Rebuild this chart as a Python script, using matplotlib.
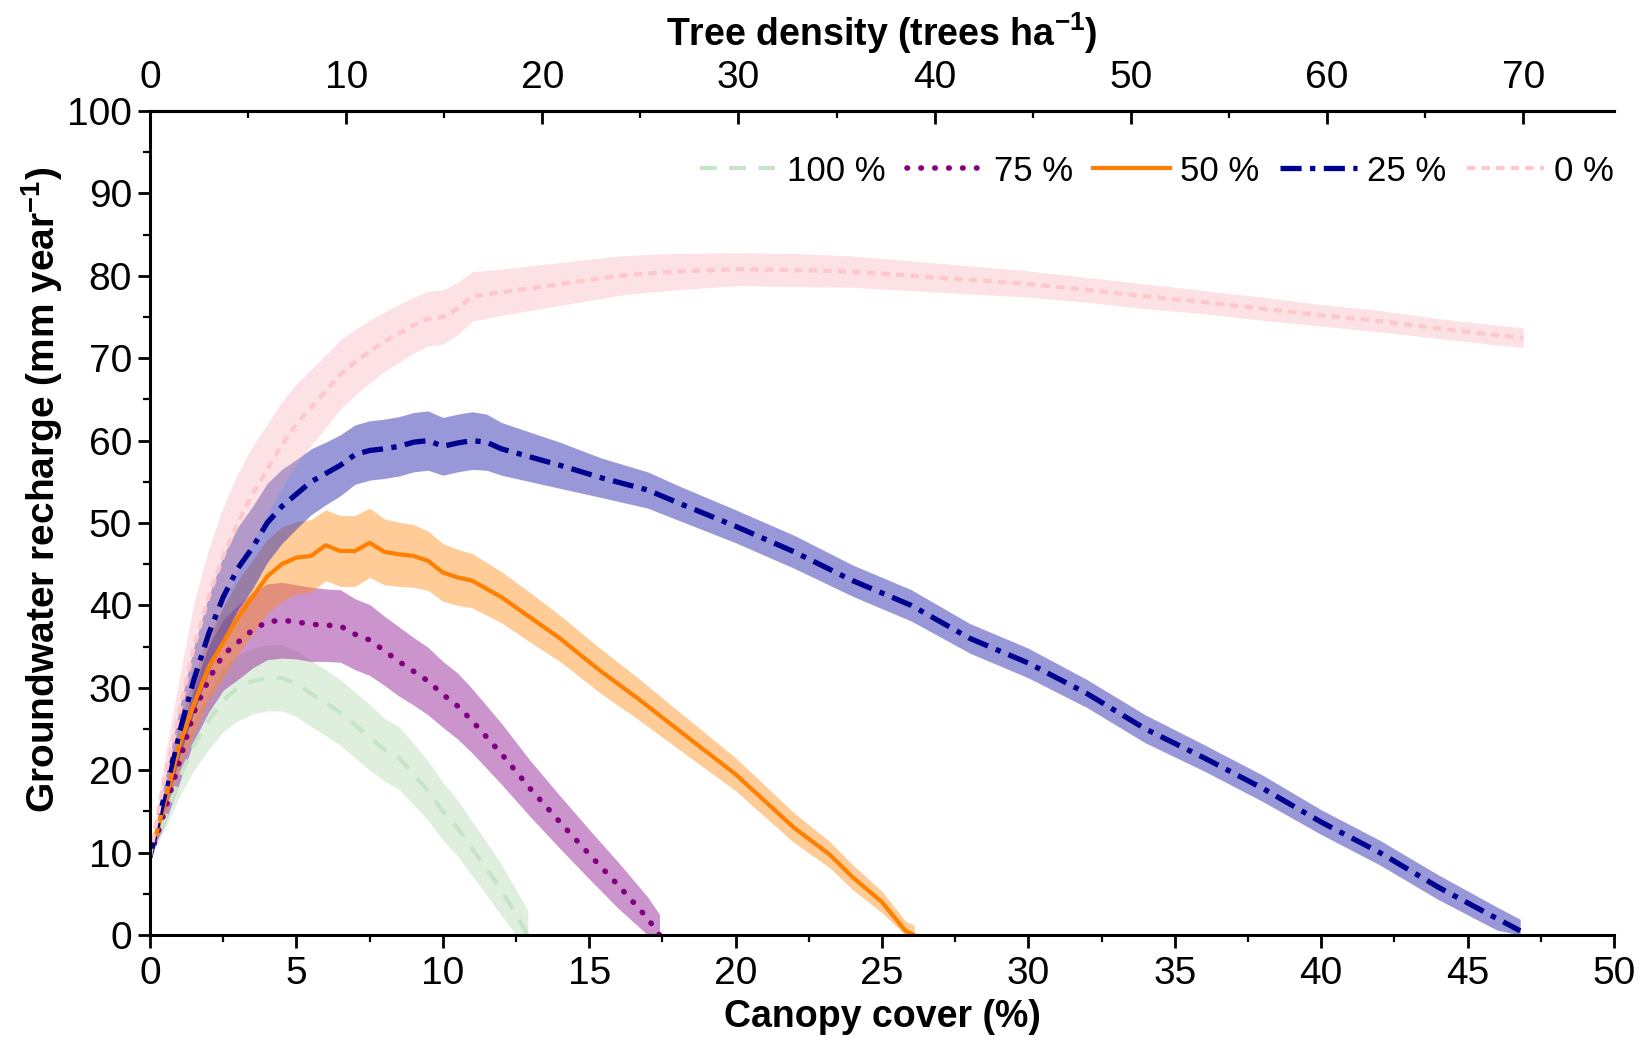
import numpy as np
import matplotlib
matplotlib.use('Agg')
import matplotlib.pyplot as plt
from matplotlib.ticker import MultipleLocator, FixedLocator

# --- fonts ---
plt.rcParams['font.family'] = ['Liberation Sans', 'DejaVu Sans']
plt.rcParams['mathtext.fontset'] = 'custom'
plt.rcParams['mathtext.rm'] = 'Liberation Sans'
plt.rcParams['mathtext.bf'] = 'Liberation Sans:bold'

# --- data (canopy cover %, recharge mm/yr, half band width) ---
x_100 = [0, 0.5, 1, 1.5, 2, 2.5, 3, 3.5, 4, 4.5, 5, 5.5, 6, 6.5, 7, 7.5, 8, 8.5, 9,
         9.5, 10, 10.5, 11, 11.5, 12, 12.5, 12.9]
y_100 = [9.5, 14, 19, 23, 26, 28.5, 30, 30.8, 31.2, 31.2, 30.5, 29.3, 28.2, 27, 25.5,
         24, 22.5, 21.5, 19.5, 17.5, 15, 13, 10.5, 8, 5.5, 2.5, 0]
e_100 = [0, 1.2, 2.2, 3, 3.5, 3.8, 4, 4, 4, 4, 4, 4, 4, 4, 4, 4, 3.8, 3.8, 3.7,
         3.6, 3.5, 3.4, 3.3, 3.2, 3.1, 3, 3]

x_75 = [0, 0.5, 1, 1.5, 2, 2.5, 3, 3.5, 4, 4.5, 5, 5.5, 6, 6.5, 7, 7.5, 8, 8.5, 9,
        9.5, 10, 10.5, 11, 11.5, 12, 13, 14, 15, 16, 17, 17.4]
y_75 = [9.5, 15, 21, 27, 31, 34, 35.5, 37, 38, 38.2, 38, 37.7, 37.6, 37.5, 36.5, 35.8,
        34.5, 33.2, 32, 30.8, 29.2, 27.8, 26, 24, 22, 17.7, 13.7, 9.8, 6, 2, 0]
e_75 = [0, 1.5, 2.6, 3.4, 4, 4.3, 4.5, 4.6, 4.6, 4.6, 4.5, 4.5, 4.4, 4.4, 4.3, 4.3,
        4.2, 4.2, 4.1, 4.1, 4, 4, 3.9, 3.8, 3.7, 3.4, 3.2, 3, 2.8, 2.6, 2.5]

x_50 = [0, 0.5, 1, 1.5, 2, 2.5, 3, 3.5, 4, 4.5, 5, 5.5, 6, 6.5, 7, 7.5, 8, 8.5, 9,
        9.5, 10, 10.5, 11, 11.5, 12, 13, 14, 15.4, 16.7, 18, 20, 22, 23.2, 24, 25,
        25.8, 26.1]
y_50 = [9.5, 16, 23, 28, 32.5, 35.5, 38.5, 41, 43.5, 45, 45.8, 46, 47.3, 46.6, 46.6,
        47.6, 46.5, 46.2, 46, 45.4, 44, 43.4, 43, 42, 41, 38.5, 36, 32, 28.6, 25,
        19.5, 13, 9.8, 7, 4, 0.5, 0]
e_50 = [0, 1.5, 2.7, 3.5, 4, 4.3, 4.5, 4.5, 4.5, 4.5, 4.4, 4.4, 4.3, 4.3, 4.3, 4.2,
        4, 3.9, 3.8, 3.6, 3.5, 3.4, 3.3, 3.2, 3.1, 3, 2.8, 2.7, 2.5, 2.3, 2, 1.8,
        1.6, 1.5, 1.3, 1.2, 1.2]

x_25 = [0, 0.5, 1, 1.5, 2, 2.5, 3, 3.5, 4, 4.5, 5, 5.5, 6, 6.5, 7, 7.5, 8, 8.5, 9,
        9.5, 10, 10.5, 11, 11.5, 12, 13, 14, 15.4, 17, 18, 20, 22, 24, 26, 28, 30,
        32, 34, 36, 38, 40, 42, 44, 46, 46.8]
y_25 = [9.5, 17, 24.5, 31, 36.5, 41, 44.5, 47, 50, 52, 53.5, 55, 56, 57, 58.3, 58.8,
        59, 59.3, 59.8, 60, 59.3, 59.7, 60, 59.8, 59, 58, 57, 55.5, 54, 52.5, 49.6,
        46.5, 43, 40, 36, 33, 29.3, 25, 21.5, 17.8, 13.7, 10, 5.8, 2, 0.5]
e_25 = [0, 1.8, 3, 4, 4.6, 5, 5, 5, 4.8, 4.5, 4.2, 4, 3.8, 3.7, 3.6, 3.6, 3.6, 3.6,
        3.6, 3.6, 3.5, 3.5, 3.5, 3.4, 3.2, 3, 2.8, 2.4, 2.2, 2.1, 2, 2, 1.9, 1.9,
        1.8, 1.8, 1.7, 1.7, 1.6, 1.6, 1.5, 1.5, 1.5, 1.4, 1.4]

x_0 = [0, 0.5, 1, 1.5, 2, 2.5, 3, 3.5, 4, 4.5, 5, 5.5, 6, 6.5, 7, 7.5, 8, 8.5, 9,
       9.5, 10, 10.5, 11, 12, 13, 14, 15, 16, 17, 18, 20, 22, 24, 26, 28, 30, 32,
       34, 36, 38, 40, 42, 44, 46, 46.9]
y_0 = [9.5, 19, 27, 35, 41, 46, 50, 53.5, 56.5, 59.5, 62, 64, 66, 68, 69.5, 70.8, 72,
       73, 74, 74.8, 75, 76, 77.5, 78, 78.5, 79, 79.5, 80, 80.3, 80.5, 80.8, 80.7,
       80.5, 80, 79.5, 79, 78.3, 77.5, 76.8, 76, 75.2, 74.5, 73.6, 72.8, 72.5]
e_0 = [0, 2.5, 4.2, 5.3, 5.8, 6, 6, 5.8, 5.5, 5.2, 4.9, 4.6, 4.4, 4.2, 4, 3.8, 3.6, 3.5,
       3.4, 3.3, 3.3, 3.2, 3, 2.8, 2.7, 2.6, 2.5, 2.4, 2.3, 2.2, 2, 2, 1.9, 1.8, 1.7,
       1.6, 1.5, 1.5, 1.4, 1.4, 1.3, 1.3, 1.2, 1.2, 1.2]

labels = ['100 %', '75 %', '50 %', '25 %', '0 %']
density_ticks = [0, 10, 20, 30, 40, 50, 60, 70]

# tree density 70 ha-1 sits at canopy cover 46.9 %
DENSITY_PER_COVER = 70 / 46.9

# --- styles ---
series = [
    (x_100, y_100, e_100, '#c6e5c8', '#7fc07f', 0.25, (0, (4, 3)), 3.0),
    (x_75, y_75, e_75, '#800080', '#9a2a9a', 0.5, (0, (0.1, 2.4)), 4.0),
    (x_50, y_50, e_50, '#ff7f00', '#ff8c1a', 0.45, '-', 3.0),
    (x_25, y_25, e_25, '#000090', '#3333b3', 0.5, (0, (4, 1.6, 1, 1.6)), 3.8),
    (x_0, y_0, e_0, '#ffc6cc', '#f6a0a8', 0.3, (0, (2, 1.5)), 3.0),
]

fig = plt.figure(figsize=(16.43, 10.45), dpi=100)
ax = fig.add_axes([0.0913, 0.1053, 0.891, 0.7885])

handles = []
for (xs, ys, es, lc, fc, fa, ls, lw), lab in zip(series, labels):
    xs = np.array(xs)
    ys = np.array(ys)
    es = np.array(es)
    ax.fill_between(xs, np.clip(ys - es, 0, None), ys + es, color=fc, alpha=fa,
                    linewidth=0)
    h, = ax.plot(xs, ys, color=lc, linestyle=ls, linewidth=lw, label=lab,
                 dash_capstyle='round' if lab == '75 %' else 'butt')
    handles.append(h)

ax.set_xlim(0, 50)
ax.set_ylim(0, 100)
ax.xaxis.set_major_locator(MultipleLocator(5))
ax.xaxis.set_minor_locator(MultipleLocator(2.5))
ax.yaxis.set_major_locator(MultipleLocator(10))
ax.yaxis.set_minor_locator(MultipleLocator(5))

ax.spines['right'].set_visible(False)
for s in ['left', 'bottom', 'top']:
    ax.spines[s].set_linewidth(2.2)

ax.tick_params(axis='x', which='major', direction='out', length=9, width=2,
               labelsize=28, pad=6)
ax.tick_params(axis='x', which='minor', direction='out', length=5, width=1.6)
ax.tick_params(axis='y', which='major', direction='out', length=9, width=2,
               labelsize=28, pad=4)
ax.tick_params(axis='y', which='minor', direction='out', length=5, width=1.6)

ax.set_xlabel('Canopy cover (%)', fontsize=27, fontweight='bold', labelpad=5)
ax.set_ylabel(r'Groundwater recharge (mm year$^{\mathbf{-1}}$)', fontsize=28,
              fontweight='bold')
ax.yaxis.set_label_coords(-0.058, 0.54)

top = ax.secondary_xaxis('top', functions=(lambda c: c * DENSITY_PER_COVER,
                                            lambda d: d / DENSITY_PER_COVER))
top.xaxis.set_major_locator(FixedLocator(density_ticks))
top.xaxis.set_minor_locator(FixedLocator([d + 5 for d in density_ticks]))
top.tick_params(axis='x', which='major', direction='in', length=9, width=2,
                labelsize=28, pad=11)
top.tick_params(axis='x', which='minor', direction='in', length=5, width=1.6)
top.spines['top'].set_linewidth(2.2)
top.set_xlabel(r'Tree density (trees ha$^{\mathbf{-1}}$)', fontsize=27,
               fontweight='bold', labelpad=10)

ax.legend(handles=handles, loc='center right', bbox_to_anchor=(1.0, 0.927),
          ncol=5, frameon=False, fontsize=25, handlelength=2.2,
          handletextpad=0.3, columnspacing=0.6, borderpad=0, borderaxespad=0)

fig.savefig('out.png', dpi=100)
